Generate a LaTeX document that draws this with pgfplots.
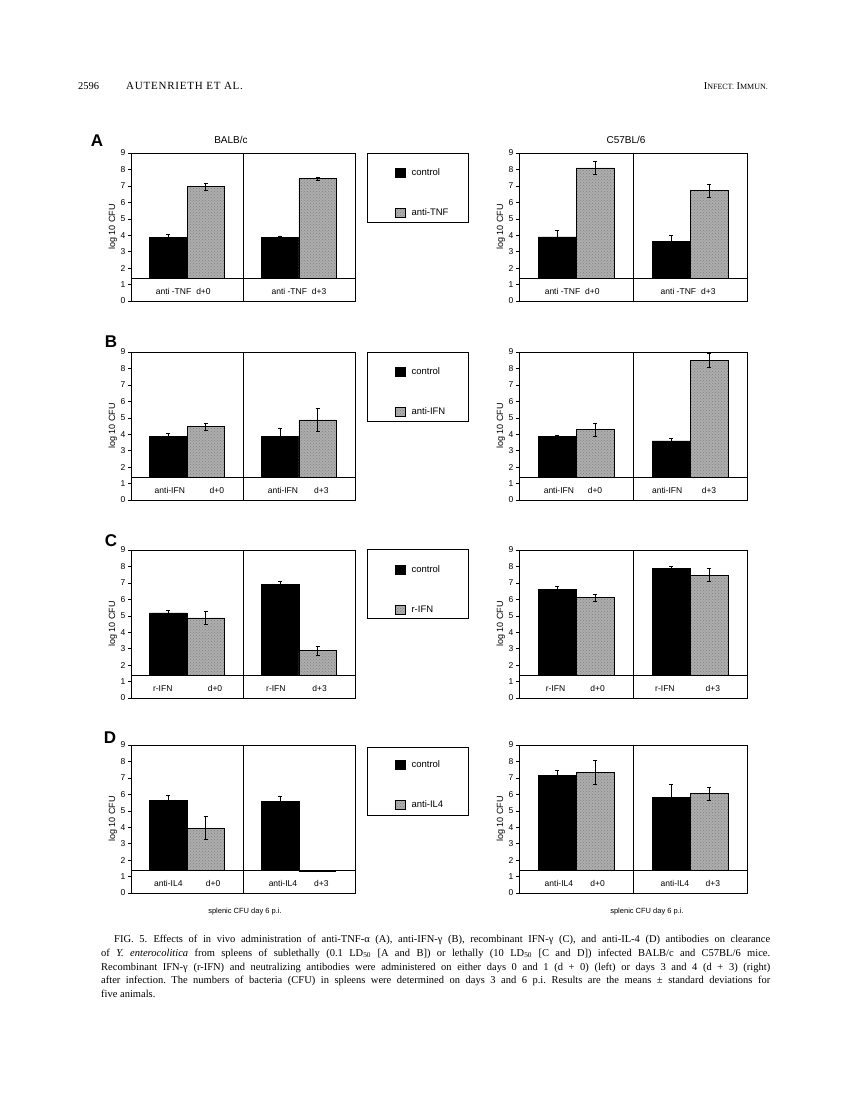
\documentclass[border=0pt]{standalone}
\usepackage{fontspec}
\setmainfont{Liberation Serif}
\newfontfamily\hv{Liberation Sans}
\usepackage{pgfplots}
\pgfplotsset{compat=1.18}
\usetikzlibrary{patterns}
\definecolor{hatch}{gray}{0.68}
\tikzset{lab/.style={font=\hv\fontsize{8.5}{9}\selectfont}}
\pgfplotsset{
  panel/.style={
    scale only axis, width=#1, height=148pt,
    xmin=0, xmax=6, ymin=0, ymax=9,
    ytick={0,1,...,9}, xtick=\empty,
    ytick pos=left, tick align=outside,
    major tick length=3pt,
    tick style={line width=0.5pt, black},
    yticklabel style={font=\hv\fontsize{8.5}{8.5}\selectfont, xshift=1pt},
    /pgf/number format/assume math mode=true,
    ylabel={log 10 CFU},
    ylabel style={font=\hv\fontsize{9}{9}\selectfont, yshift=-3pt},
    axis line style={line width=0.6pt},
    axis on top,
    clip=false,
    legend style={draw=none, fill=none, inner sep=0pt, row sep=28pt,
      font=\hv\fontsize{9.5}{10}\selectfont, legend cell align=left,
      nodes={inner sep=2pt}},
  },
  ctrl/.style={ybar, bar width=1, bar shift=0pt, fill=black, draw=black, line width=0.5pt,
    legend image code/.code={\draw[##1, line width=0.5pt] (0pt,-4.5pt) rectangle (10pt,4.5pt); \path (14pt,0pt);},
    error bars/.cd, y dir=both, y explicit,
    error bar style={line width=0.6pt, black},
    error mark options={rotate=90, mark size=2pt, line width=0.6pt, black}},
  trt/.style={ybar, bar width=1, bar shift=0pt, fill=hatch, draw=black, line width=0.5pt,
    postaction={pattern=crosshatch dots, pattern color=black!50},
    legend image code/.code={\draw[##1, line width=0.5pt] (0pt,-4.5pt) rectangle (10pt,4.5pt); \path (14pt,0pt);},
    error bars/.cd, y dir=both, y explicit,
    error bar style={line width=0.6pt, black},
    error mark options={rotate=90, mark size=2pt, line width=0.6pt, black}},
}
\newcommand{\basebox}{%
  \fill[white] (axis cs:0,0) rectangle (axis cs:6,1.4);
  \draw[line width=0.6pt] (axis cs:0,1.4) -- (axis cs:6,1.4);
  \draw[line width=0.6pt] (axis cs:3,0) -- (axis cs:3,9);
}
\begin{document}
\frenchspacing
\begin{tikzpicture}
\fill[white] (0pt,0pt) rectangle (840pt,-1102pt);
\useasboundingbox (0pt,0pt) rectangle (840pt,-1102pt);

% header
\node[anchor=base west, inner sep=0pt, font=\fontsize{10.5}{12}\selectfont] at (78pt,-90pt) {2596};
\node[anchor=base west, inner sep=0pt, font=\fontsize{11}{12}\selectfont\addfontfeatures{LetterSpace=7}] at (126pt,-90pt) {AUTENRIETH ET AL.};
\node[anchor=base east, inner sep=0pt] at (768pt,-90pt) {{\fontsize{10.5}{12}\selectfont I}{\fontsize{8}{12}\selectfont NFECT.} {\fontsize{10.5}{12}\selectfont I}{\fontsize{8}{12}\selectfont MMUN.}};

% titles and panel letters
\node[font=\hv\fontsize{10}{10}\selectfont] at (231pt,-140pt) {BALB/c};
\node[font=\hv\fontsize{10}{10}\selectfont] at (626pt,-140pt) {C57BL/6};
\node[font=\hv\bfseries\fontsize{17}{17}\selectfont] at (97pt,-141pt) {A};
\node[font=\hv\bfseries\fontsize{17}{17}\selectfont] at (111pt,-342pt) {B};
\node[font=\hv\bfseries\fontsize{17}{17}\selectfont] at (111pt,-541pt) {C};
\node[font=\hv\bfseries\fontsize{17}{17}\selectfont] at (110pt,-738pt) {D};

% legend boxes
\draw[line width=0.6pt] (367pt,-153pt) rectangle (468pt,-222pt);
\draw[line width=0.6pt] (367pt,-352pt) rectangle (468pt,-421pt);
\draw[line width=0.6pt] (367pt,-549pt) rectangle (468pt,-618pt);
\draw[line width=0.6pt] (367pt,-747pt) rectangle (468pt,-815pt);

% ---------------- Row A ----------------
\begin{axis}[panel=224pt, at={(131pt,-301pt)}, anchor=south west,
  legend style={at={(axis description cs:1.178,0.91)}, anchor=north west}]
\addplot[ctrl] coordinates {(1,3.87) +- (0,0.2) (4,3.87) +- (0,0.06)};
\addplot[trt] coordinates {(2,6.95) +- (0,0.2) (5,7.45) +- (0,0.1)};
\legend{control, anti-TNF}
\basebox
\node[lab] at (axis cs:1.4,0.6) {anti -TNF\hspace{5pt}d+0};
\node[lab] at (axis cs:4.5,0.6) {anti -TNF\hspace{5pt}d+3};
\end{axis}
\begin{axis}[panel=228pt, at={(519pt,-301pt)}, anchor=south west]
\addplot[ctrl] coordinates {(1,3.9) +- (0,0.4) (4,3.62) +- (0,0.38)};
\addplot[trt] coordinates {(2,8.1) +- (0,0.4) (5,6.72) +- (0,0.4)};
\basebox
\node[lab] at (axis cs:1.4,0.6) {anti -TNF\hspace{5pt}d+0};
\node[lab] at (axis cs:4.45,0.6) {anti -TNF\hspace{5pt}d+3};
\end{axis}

% ---------------- Row B ----------------
\begin{axis}[panel=224pt, at={(131pt,-500pt)}, anchor=south west,
  legend style={at={(axis description cs:1.178,0.91)}, anchor=north west}]
\addplot[ctrl] coordinates {(1,3.87) +- (0,0.2) (4,3.87) +- (0,0.5)};
\addplot[trt] coordinates {(2,4.46) +- (0,0.2) (5,4.88) +- (0,0.7)};
\legend{control, anti-IFN}
\basebox
\node[lab] at (axis cs:1.04,0.6) {anti-IFN};
\node[lab] at (axis cs:2.3,0.6) {d+0};
\node[lab] at (axis cs:4.07,0.6) {anti-IFN};
\node[lab] at (axis cs:5.1,0.6) {d+3};
\end{axis}
\begin{axis}[panel=228pt, at={(519pt,-500pt)}, anchor=south west]
\addplot[ctrl] coordinates {(1,3.85) +- (0,0.1) (4,3.6) +- (0,0.17)};
\addplot[trt] coordinates {(2,4.28) +- (0,0.4) (5,8.5) +- (0,0.4)};
\basebox
\node[lab] at (axis cs:1.05,0.6) {anti-IFN};
\node[lab] at (axis cs:2.0,0.6) {d+0};
\node[lab] at (axis cs:3.9,0.6) {anti-IFN};
\node[lab] at (axis cs:5.0,0.6) {d+3};
\end{axis}

% ---------------- Row C ----------------
\begin{axis}[panel=224pt, at={(131pt,-698pt)}, anchor=south west,
  legend style={at={(axis description cs:1.178,0.91)}, anchor=north west}]
\addplot[ctrl] coordinates {(1,5.17) +- (0,0.17) (4,6.9) +- (0,0.18)};
\addplot[trt] coordinates {(2,4.87) +- (0,0.4) (5,2.88) +- (0,0.28)};
\legend{control, r-IFN}
\basebox
\node[lab] at (axis cs:0.85,0.6) {r-IFN};
\node[lab] at (axis cs:2.25,0.6) {d+0};
\node[lab] at (axis cs:3.88,0.6) {r-IFN};
\node[lab] at (axis cs:5.05,0.6) {d+3};
\end{axis}
\begin{axis}[panel=228pt, at={(519pt,-698pt)}, anchor=south west]
\addplot[ctrl] coordinates {(1,6.6) +- (0,0.18) (4,7.9) +- (0,0.1)};
\addplot[trt] coordinates {(2,6.1) +- (0,0.2) (5,7.47) +- (0,0.4)};
\basebox
\node[lab] at (axis cs:0.96,0.6) {r-IFN};
\node[lab] at (axis cs:2.07,0.6) {d+0};
\node[lab] at (axis cs:3.84,0.6) {r-IFN};
\node[lab] at (axis cs:5.1,0.6) {d+3};
\end{axis}

% ---------------- Row D ----------------
\begin{axis}[panel=224pt, at={(131pt,-893pt)}, anchor=south west,
  legend style={at={(axis description cs:1.178,0.91)}, anchor=north west}]
\addplot[ctrl] coordinates {(1,5.65) +- (0,0.3) (4,5.55) +- (0,0.32)};
\addplot[trt] coordinates {(2,3.95) +- (0,0.7)};
\legend{control, anti-IL4}
\basebox
\addplot[black, line width=0.8pt, forget plot] coordinates {(4.5,1.32) (5.5,1.32)};
\node[lab] at (axis cs:1.0,0.6) {anti-IL4};
\node[lab] at (axis cs:2.2,0.6) {d+0};
\node[lab] at (axis cs:4.07,0.6) {anti-IL4};
\node[lab] at (axis cs:5.1,0.6) {d+3};
\end{axis}
\begin{axis}[panel=228pt, at={(519pt,-893pt)}, anchor=south west]
\addplot[ctrl] coordinates {(1,7.15) +- (0,0.3) (4,5.8) +- (0,0.8)};
\addplot[trt] coordinates {(2,7.35) +- (0,0.73) (5,6.05) +- (0,0.4)};
\basebox
\node[lab] at (axis cs:1.05,0.6) {anti-IL4};
\node[lab] at (axis cs:2.07,0.6) {d+0};
\node[lab] at (axis cs:4.1,0.6) {anti-IL4};
\node[lab] at (axis cs:5.1,0.6) {d+3};
\end{axis}

% footers
\node[font=\hv\fontsize{7.5}{8}\selectfont] at (245pt,-912pt) {splenic CFU day 6 p.i.};
\node[font=\hv\fontsize{7.5}{8}\selectfont] at (647pt,-912pt) {splenic CFU day 6 p.i.};

% caption
\node[anchor=north west, inner sep=0pt, text width=669pt, align=justify,
  font=\fontsize{10.5}{13.7}\selectfont] at (101pt,-935pt)
{\hspace*{13pt}FIG.~5.\hspace{0.6em}Effects of in vivo administration of anti-TNF-α (A), anti-IFN-γ (B), recombinant IFN-γ (C), and anti-IL-4 (D) antibodies on clearance\linebreak
of \textit{Y. enterocolitica} from spleens of sublethally (0.1 LD\textsubscript{50} [A and B]) or lethally (10 LD\textsubscript{50} [C and D]) infected BALB/c and C57BL/6 mice.\linebreak
Recombinant IFN-γ (r-IFN) and neutralizing antibodies were administered on either days 0 and 1 (d + 0) (left) or days 3 and 4 (d + 3) (right)\linebreak
after infection. The numbers of bacteria (CFU) in spleens were determined on days 3 and 6 p.i. Results are the means ± standard deviations for\linebreak
five animals.};
\end{tikzpicture}
\end{document}
